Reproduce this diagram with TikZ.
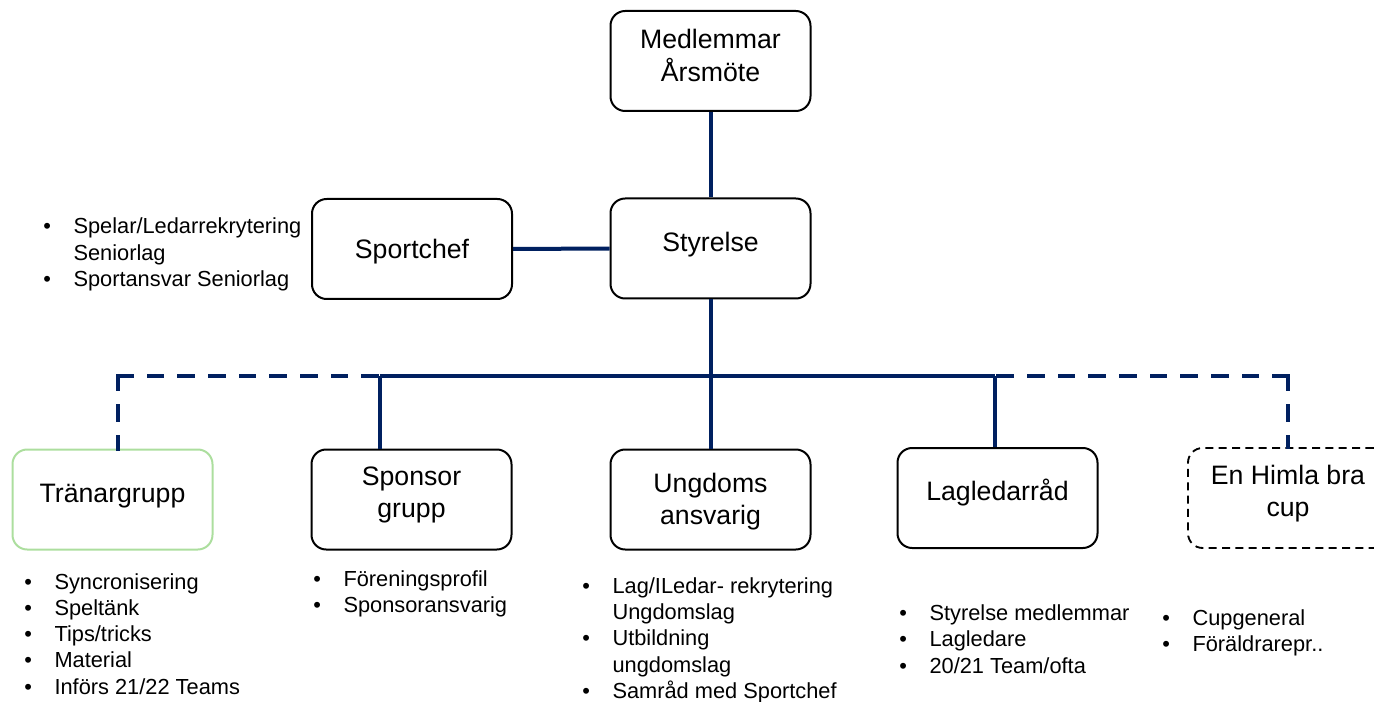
\documentclass[tikz,border=0pt]{standalone}
\usepackage{fontspec}
\setmainfont{Liberation Sans}

\definecolor{navy}{RGB}{0,32,96}
\definecolor{softgreen}{RGB}{172,222,158}

\newcommand{\lift}[2]{\raisebox{#1}[\height][\depth]{\begin{tabular}{@{}c@{}}#2\end{tabular}}}
\newcommand{\itm}{\makebox[22.7pt][l]{\textbullet}}

\begin{document}
\begin{tikzpicture}[x=0.75pt, y=-0.75pt,
  box/.style={draw, line width=1.5pt, rounded corners=11pt, minimum width=150pt, minimum height=75pt, inner sep=0pt, font=\fontsize{20}{24}\selectfont},
  link/.style={draw=navy, line width=3pt},
  linkdash/.style={link, line cap=rect, dash pattern=on 10.3pt off 12.7pt},
  list/.style={anchor=base west, inner sep=0pt, font=\fontsize{16.35}{19.7}\selectfont}]

\useasboundingbox (0,0) rectangle (1374,702);

\node (medlem)    at (710.5, 61)    [box] {\lift{2pt}{Medlemmar\\Årsmöte}};
\node (styrelse)  at (710.5, 248.5) [box] {\lift{2.5pt}{Styrelse}};
\node (sportchef) at (412, 249)     [box] {\lift{-2pt}{Sportchef}};

\node (tranar)   at (112.5, 499.5) [box, draw=softgreen] {\lift{2.5pt}{Tränargrupp}};
\node (sponsor)  at (411.5, 499.5) [box] {\lift{3pt}{Sponsor\\grupp}};
\node (ungdoms)  at (710.5, 499.5) [box] {\lift{-2pt}{Ungdoms\\ansvarig}};
\node (lagledar) at (997.5, 498)   [box] {\lift{3pt}{Lagledarråd}};
\node (cup)      at (1288, 498)    [box, line width=1.4pt, dash pattern=on 6pt off 4pt] {\lift{3pt}{En Himla bra\\cup}};

\node (seniorlist) at (43, 234) [list] {\begin{tabular}[t]{@{}l@{}l@{}}
  \itm & Spelar/Ledarrekrytering\\ & Seniorlag\\ \itm & Sportansvar Seniorlag\end{tabular}};
\node (tranlist) at (24, 589) [list] {\begin{tabular}[t]{@{}l@{}l@{}}
  \itm & Syncronisering\\ \itm & Speltänk\\ \itm & Tips/tricks\\ \itm & Material\\ \itm & Införs 21/22 Teams\end{tabular}};
\node (sponsorlist) at (313, 586.5) [list] {\begin{tabular}[t]{@{}l@{}l@{}}
  \itm & Föreningsprofil\\ \itm & Sponsoransvarig\end{tabular}};
\node (ungdomslist) at (582, 593.3) [list] {\begin{tabular}[t]{@{}l@{}l@{}}
  \itm & Lag/ILedar- rekrytering\\ & Ungdomslag\\ \itm & Utbildning\\ & ungdomslag\\ \itm & Samråd med Sportchef\end{tabular}};
\node (lagledarlist) at (899, 620.6) [list] {\begin{tabular}[t]{@{}l@{}l@{}}
  \itm & Styrelse medlemmar\\ \itm & Lagledare\\ \itm & 20/21 Team/ofta\end{tabular}};
\node (cuplist) at (1162, 625) [list] {\begin{tabular}[t]{@{}l@{}l@{}}
  \itm & Cupgeneral\\ \itm & Föräldrarepr..\end{tabular}};

\coordinate (jleft)    at (118, 375.5);
\coordinate (jsponsor) at (380, 375.5);
\coordinate (jlag)     at (995, 375.5);
\coordinate (jright)   at (1288, 375.5);

\draw[link] (medlem.south) -- (styrelse.north);
\draw[link] (sportchef.east) -- (styrelse.west);
\draw[link] (styrelse.south) -- (ungdoms.north);
\draw[link] (jsponsor) -- (jlag);
\draw[link] (jsponsor) -- (jsponsor |- sponsor.north);
\draw[link] (jlag) -- (jlag |- lagledar.north);
\draw[linkdash] (jleft) -- (jleft |- tranar.north);
\draw[linkdash] (jleft) -- (jsponsor);
\draw[linkdash] (jright) -- (jlag);
\draw[linkdash] (jright) -- (cup.north);

\end{tikzpicture}
\end{document}
